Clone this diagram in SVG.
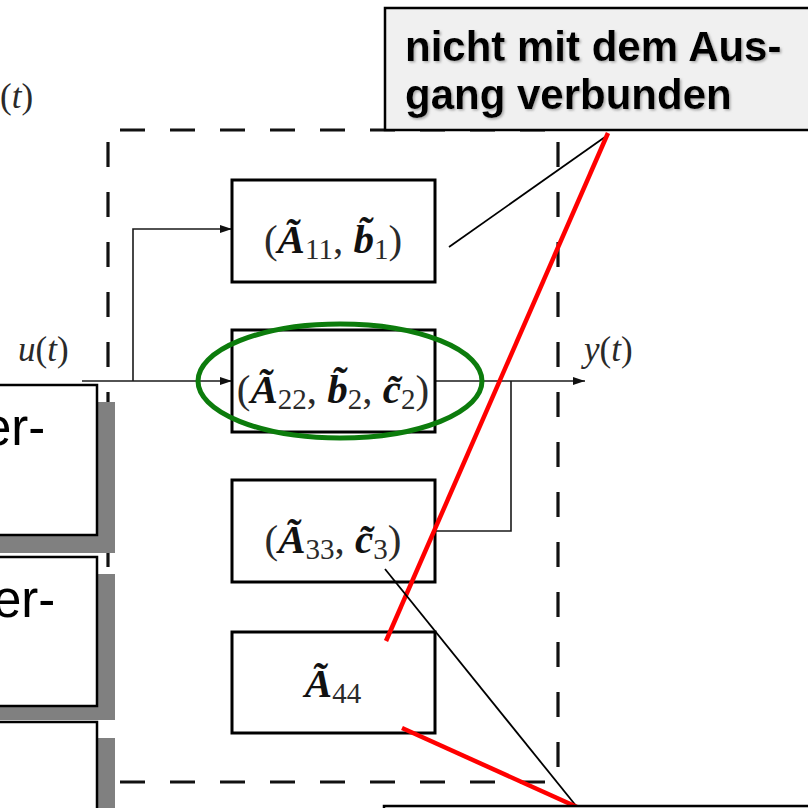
<svg xmlns="http://www.w3.org/2000/svg" width="808" height="808" viewBox="0 0 808 808">
<style>
.frame{fill:none;stroke:#111;stroke-width:3.2;stroke-dasharray:25 25;stroke-dashoffset:-12}
.blk{fill:#fff;stroke:#000;stroke-width:3}
.wire{fill:none;stroke:#1a1a1a;stroke-width:1.6}
.math{font-family:"Liberation Serif","DejaVu Serif",serif;fill:#2a2a2a}
.mi{font-style:italic}
.bi{font-style:italic;font-weight:bold;fill:#111}
.ptr{stroke:#000;stroke-width:1.8;fill:none}
.red{stroke:#f00;stroke-width:4.5;fill:none}
.callout{fill:#f0f0f0;stroke:#000;stroke-width:2.5}
.note{font-family:"Liberation Sans",Arial,sans-serif;font-weight:bold;font-size:42px;fill:#000}
.side{fill:#fff;stroke:#000;stroke-width:2.5}
.shadow{fill:#808080}
.sidetext{font-family:"Liberation Sans",Arial,sans-serif;font-size:51px;fill:#000}
</style>
<defs>
  <marker id="arr" viewBox="0 0 12 8" refX="12" refY="4" markerWidth="12" markerHeight="8" markerUnits="userSpaceOnUse" orient="auto">
    <path d="M0,0 L12,4 L0,8 z" fill="#111"/>
  </marker>
  <filter id="halo" x="-5%" y="-20%" width="110%" height="140%">
    <feDropShadow dx="1.5" dy="1.5" stdDeviation="1" flood-color="#8a8a8a" flood-opacity="0.7"/>
  </filter>
</defs>

<!-- dashed subsystem frame -->
<g id="frame">
  <line class="frame" x1="108" y1="130" x2="558" y2="130"/>
  <line class="frame" x1="108" y1="130" x2="108" y2="782"/>
  <line class="frame" x1="558" y1="130" x2="558" y2="782"/>
  <line class="frame" x1="108" y1="782" x2="558" y2="782"/>
</g>

<!-- signal labels -->
<g id="label-top">
  <text class="math" x="0" y="108" font-size="35">(<tspan class="mi">t</tspan>)</text>
</g>
<g id="label-u">
  <text class="math" x="18" y="361" font-size="35"><tspan class="mi">u</tspan>(<tspan class="mi">t</tspan>)</text>
</g>
<g id="label-y">
  <text class="math" x="584" y="361" font-size="35"><tspan class="mi">y</tspan>(<tspan class="mi">t</tspan>)</text>
</g>

<!-- connectors -->
<g id="connectors">
  <path class="wire" d="M82,381 H232" marker-end="url(#arr)"/>
  <path class="wire" d="M133,381 V229 H232" marker-end="url(#arr)"/>
  <path class="wire" d="M435,381 H585" marker-end="url(#arr)"/>
  <path class="wire" d="M435,531 H511 V381"/>
</g>

<!-- subsystem blocks -->
<g id="block-1">
  <rect class="blk" x="232" y="180" width="203" height="102"/>
  <text class="math" x="333" y="253" text-anchor="middle" font-size="41">(<tspan class="bi">Ã</tspan><tspan font-size="29" dy="6">11</tspan><tspan dy="-6">, </tspan><tspan class="bi">b̃</tspan><tspan font-size="29" dy="6">1</tspan><tspan dy="-6">)</tspan></text>
</g>
<g id="block-2">
  <rect class="blk" x="232" y="330" width="203" height="102"/>
  <text class="math" x="333" y="403" text-anchor="middle" font-size="41">(<tspan class="bi">Ã</tspan><tspan font-size="29" dy="6">22</tspan><tspan dy="-6">, </tspan><tspan class="bi">b̃</tspan><tspan font-size="29" dy="6">2</tspan><tspan dy="-6">, </tspan><tspan class="bi">c̃</tspan><tspan font-size="29" dy="6">2</tspan><tspan dy="-6">)</tspan></text>
</g>
<g id="block-3">
  <rect class="blk" x="232" y="480" width="203" height="102"/>
  <text class="math" x="333" y="553" text-anchor="middle" font-size="41">(<tspan class="bi">Ã</tspan><tspan font-size="29" dy="6">33</tspan><tspan dy="-6">, </tspan><tspan class="bi">c̃</tspan><tspan font-size="29" dy="6">3</tspan><tspan dy="-6">)</tspan></text>
</g>
<g id="block-4">
  <rect class="blk" x="232" y="632" width="203" height="101"/>
  <text class="math" x="333" y="697" text-anchor="middle" font-size="41"><tspan class="bi">Ã</tspan><tspan font-size="29" dy="6">44</tspan></text>
</g>

<!-- highlight around the second block -->
<ellipse id="highlight" cx="340" cy="381" rx="142" ry="57" fill="none" stroke="#0c7c0c" stroke-width="5"/>

<!-- callout pointers -->
<g id="pointers">
  <line class="ptr" x1="605" y1="137" x2="449" y2="247"/>
  <line class="red" x1="608" y1="133" x2="386" y2="641"/>
  <line class="ptr" x1="385" y1="569" x2="577" y2="807"/>
  <line class="red" x1="402" y1="728" x2="577" y2="807"/>
</g>

<!-- callout: top right -->
<g id="callout-top">
  <rect class="callout" x="385" y="8" width="440" height="122"/>
  <g filter="url(#halo)">
    <text class="note" x="405" y="61">nicht mit dem Aus-</text>
    <text class="note" x="405" y="109">gang verbunden</text>
  </g>
</g>

<!-- callout: bottom edge -->
<g id="callout-bottom">
  <rect class="callout" x="384" y="806" width="440" height="40"/>
</g>

<!-- side panels on the left -->
<g id="side-1">
  <rect class="shadow" x="-10" y="402" width="125" height="151"/>
  <rect class="side" x="-10" y="385" width="107" height="150"/>
  <text class="sidetext" x="-17" y="445">er-</text>
</g>
<g id="side-2">
  <rect class="shadow" x="-10" y="574" width="125" height="146"/>
  <rect class="side" x="-10" y="557" width="107" height="149"/>
  <text class="sidetext" x="-7" y="617">er-</text>
</g>
<g id="side-3">
  <rect class="shadow" x="-10" y="738" width="125" height="100"/>
  <rect class="side" x="-10" y="722" width="107" height="110"/>
</g>
</svg>
